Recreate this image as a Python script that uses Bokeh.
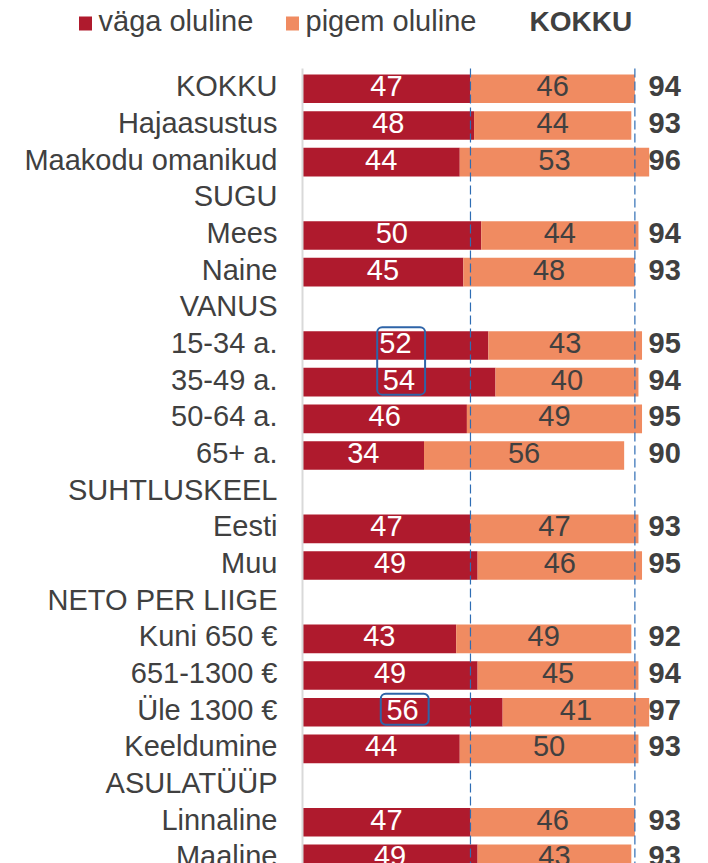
from bokeh.plotting import figure
from bokeh.models import Range1d, BoxAnnotation, ColumnDataSource
from bokeh.core.properties import value
from bokeh.embed import file_html
from bokeh.resources import INLINE

# ---------------- data ----------------
labels = ["KOKKU", "Hajaasustus", "Maakodu omanikud", "SUGU", "Mees", "Naine",
          "VANUS", "15-34 a.", "35-49 a.", "50-64 a.", "65+ a.", "SUHTLUSKEEL",
          "Eesti", "Muu", "NETO PER LIIGE", "Kuni 650 €", "651-1300 €",
          "Üle 1300 €", "Keeldumine", "ASULATÜÜP", "Linnaline", "Maaline"]
vaga = [47, 48, 44, None, 50, 45, None, 52, 54, 46, 34, None,
        47, 49, None, 43, 49, 56, 44, None, 47, 49]
pigem = [46, 44, 53, None, 44, 48, None, 43, 40, 49, 56, None,
         47, 46, None, 49, 45, 41, 50, None, 46, 43]
kokku = [94, 93, 96, None, 94, 93, None, 95, 94, 95, 90, None,
         93, 95, None, 92, 94, 97, 93, None, 93, 93]
series_names = ["väga oluline", "pigem oluline"]
total_name = "KOKKU"
highlights = [["15-34 a.", "35-49 a."], ["Üle 1300 €"]]

# ---------------- style ----------------
RED = "#AF1A2D"
ORANGE = "#F08B61"
TXT = "#404040"
BLUE = "#2E6DB4"
BOXBLUE = "#2E64A8"
FONT = value("Liberation Sans")
FS = "29px"

W, H = 708, 863
X0_PX, SCALE = 302.0, 3.574      # pixel of value 0, px per unit
ROW0_PX, ROW_PX = 88.3, 36.67     # pixel of first row centre, px per row

x_start = -X0_PX / SCALE
x_end = (W - X0_PX) / SCALE
y_top = -ROW0_PX / ROW_PX
y_bottom = (H - ROW0_PX) / ROW_PX

p = figure(width=W, height=H, x_range=Range1d(x_start, x_end),
           y_range=Range1d(y_bottom, y_top), output_backend="svg",
           toolbar_location=None, min_border=0, x_axis_location=None,
           y_axis_location=None, outline_line_color=None)
p.grid.visible = False
p.background_fill_color = "white"
p.border_fill_color = "white"


def px(xp):
    return (xp - X0_PX) / SCALE


def py(yp):
    return (yp - ROW0_PX) / ROW_PX


rows = list(range(len(labels)))
bar_idx = [i for i in rows if vaga[i] is not None]
tot_x = px(648)
src = ColumnDataSource(dict(
    row=[rows[i] for i in bar_idx],
    vaga=[vaga[i] for i in bar_idx],
    end=[vaga[i] + pigem[i] for i in bar_idx],
    vmid=[vaga[i] / 2 for i in bar_idx],
    pmid=[vaga[i] + pigem[i] / 2 for i in bar_idx],
    tx=[tot_x for i in bar_idx],
    vlbl=[str(vaga[i]) for i in bar_idx],
    plbl=[str(pigem[i]) for i in bar_idx],
    tlbl=[str(kokku[i]) for i in bar_idx],
))

BAR_H = 0.78
p.hbar(y="row", left=0, right="vaga", height=BAR_H, fill_color=RED,
       line_color=None, source=src)
p.hbar(y="row", left="vaga", right="end", height=BAR_H, fill_color=ORANGE,
       line_color=None, source=src)

# axis line and reference lines
line_top = py(68)
p.segment(x0=[0], y0=[line_top], x1=[0], y1=[y_bottom], line_color="#D9D9D9",
          line_width=2)
ref_x = [vaga[0], vaga[0] + pigem[0]]
p.segment(x0=ref_x, y0=[line_top] * 2, x1=ref_x, y1=[y_bottom] * 2,
          line_color=BLUE, line_width=1.2, line_dash="9 4")

TOFF = -2.5
# bar labels
p.text(x="vmid", y="row", text="vlbl", source=src, text_align="center",
       text_baseline="middle", text_color="white", text_font=FONT,
       text_font_size=FS, y_offset=TOFF)
p.text(x="pmid", y="row", text="plbl", source=src, text_align="center",
       text_baseline="middle", text_color=TXT, text_font=FONT,
       text_font_size=FS, y_offset=TOFF)
# totals
p.text(x="tx", y="row", text="tlbl", source=src,
       text_align="left", text_baseline="middle", text_color=TXT,
       text_font=FONT, text_font_size=FS, text_font_style="bold",
       y_offset=TOFF)
# category labels
lab_x = px(277)
p.text(x=[lab_x] * len(labels), y=rows, text=labels, text_align="right",
       text_baseline="middle", text_color=TXT, text_font=FONT,
       text_font_size=FS, y_offset=TOFF)

# legend
leg_y = py(23)
p.rect(x=[px(85), px(292)], y=[leg_y] * 2, width=13, height=14,
       width_units="screen", height_units="screen",
       fill_color=[RED, ORANGE], line_color=None)
p.text(x=[px(98), px(305)], y=[leg_y] * 2, text=series_names,
       text_align="left", text_baseline="middle", text_color=TXT,
       text_font=FONT, text_font_size=FS, y_offset=TOFF)
p.text(x=[px(529)], y=[leg_y], text=[total_name], text_align="left",
       text_baseline="middle", text_color=TXT, text_font=FONT,
       text_font_size="28px", text_font_style="bold", y_offset=TOFF)

# highlight boxes
for grp in highlights:
    ids = [labels.index(g) for g in grp]
    cx = max(vaga[i] for i in ids) / 2
    box = BoxAnnotation(left=cx - 6.1, right=cx + 7.3,
                        top=min(ids) - 0.5, bottom=max(ids) + 0.34,
                        fill_alpha=0, line_color=BOXBLUE, line_alpha=1.0,
                        line_width=2, border_radius=5)
    p.add_layout(box)

open("out.html", "w").write(file_html(p, INLINE))
